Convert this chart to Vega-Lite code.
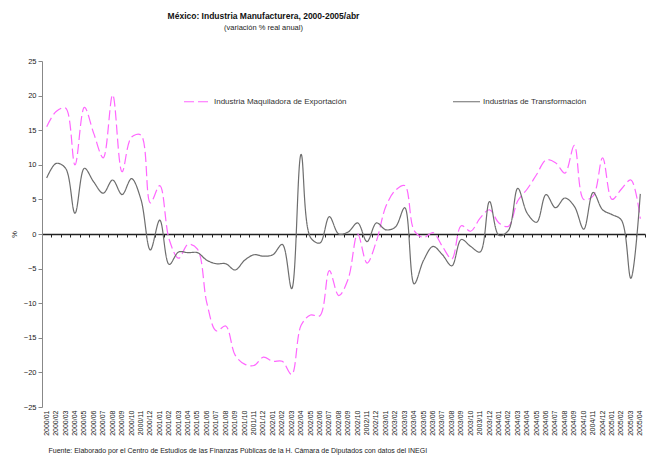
{
  "$schema": "https://vega.github.io/schema/vega-lite/v6.json",
  "width": 603,
  "height": 346,
  "autosize": {"type": "none"},
  "padding": {"left": 42, "top": 61, "right": 5, "bottom": 50},
  "background": "white",
  "config": {"font": "Liberation Sans", "view": {"stroke": null}},
  "title": {
    "text": "México: Industria Manufacturera, 2000-2005/abr",
    "subtitle": "(variación % real anual)",
    "fontSize": 8.5,
    "fontWeight": "bold",
    "color": "#111",
    "subtitleFontSize": 7.5,
    "subtitleColor": "#222",
    "subtitlePadding": 3,
    "anchor": "middle",
    "dx": -80,
    "offset": 26
  },
  "datasets": {
    "d": [
      {"mes": "2000/01", "serie": "Industria Maquiladora de Exportación", "valor": 15.5},
      {"mes": "2000/02", "serie": "Industria Maquiladora de Exportación", "valor": 17.7},
      {"mes": "2000/03", "serie": "Industria Maquiladora de Exportación", "valor": 18.2},
      {"mes": "2000/04", "serie": "Industria Maquiladora de Exportación", "valor": 10.0},
      {"mes": "2000/05", "serie": "Industria Maquiladora de Exportación", "valor": 18.3},
      {"mes": "2000/06", "serie": "Industria Maquiladora de Exportación", "valor": 14.5},
      {"mes": "2000/07", "serie": "Industria Maquiladora de Exportación", "valor": 11.0},
      {"mes": "2000/08", "serie": "Industria Maquiladora de Exportación", "valor": 20.1},
      {"mes": "2000/09", "serie": "Industria Maquiladora de Exportación", "valor": 9.0},
      {"mes": "2000/10", "serie": "Industria Maquiladora de Exportación", "valor": 14.0},
      {"mes": "2000/11", "serie": "Industria Maquiladora de Exportación", "valor": 14.3},
      {"mes": "2000/12", "serie": "Industria Maquiladora de Exportación", "valor": 4.5},
      {"mes": "2001/01", "serie": "Industria Maquiladora de Exportación", "valor": 7.0},
      {"mes": "2001/02", "serie": "Industria Maquiladora de Exportación", "valor": -0.8},
      {"mes": "2001/03", "serie": "Industria Maquiladora de Exportación", "valor": -3.5},
      {"mes": "2001/04", "serie": "Industria Maquiladora de Exportación", "valor": -1.5},
      {"mes": "2001/05", "serie": "Industria Maquiladora de Exportación", "valor": -2.2},
      {"mes": "2001/06", "serie": "Industria Maquiladora de Exportación", "valor": -10.0},
      {"mes": "2001/07", "serie": "Industria Maquiladora de Exportación", "valor": -14.0},
      {"mes": "2001/08", "serie": "Industria Maquiladora de Exportación", "valor": -13.3},
      {"mes": "2001/09", "serie": "Industria Maquiladora de Exportación", "valor": -17.5},
      {"mes": "2001/10", "serie": "Industria Maquiladora de Exportación", "valor": -18.8},
      {"mes": "2001/11", "serie": "Industria Maquiladora de Exportación", "valor": -19.0},
      {"mes": "2001/12", "serie": "Industria Maquiladora de Exportación", "valor": -17.8},
      {"mes": "2002/01", "serie": "Industria Maquiladora de Exportación", "valor": -18.4},
      {"mes": "2002/02", "serie": "Industria Maquiladora de Exportación", "valor": -18.4},
      {"mes": "2002/03", "serie": "Industria Maquiladora de Exportación", "valor": -20.3},
      {"mes": "2002/04", "serie": "Industria Maquiladora de Exportación", "valor": -13.2},
      {"mes": "2002/05", "serie": "Industria Maquiladora de Exportación", "valor": -11.7},
      {"mes": "2002/06", "serie": "Industria Maquiladora de Exportación", "valor": -11.8},
      {"mes": "2002/07", "serie": "Industria Maquiladora de Exportación", "valor": -5.3},
      {"mes": "2002/08", "serie": "Industria Maquiladora de Exportación", "valor": -8.9},
      {"mes": "2002/09", "serie": "Industria Maquiladora de Exportación", "valor": -6.5},
      {"mes": "2002/10", "serie": "Industria Maquiladora de Exportación", "valor": 0.0},
      {"mes": "2002/11", "serie": "Industria Maquiladora de Exportación", "valor": -4.2},
      {"mes": "2002/12", "serie": "Industria Maquiladora de Exportación", "valor": -1.0},
      {"mes": "2003/01", "serie": "Industria Maquiladora de Exportación", "valor": 4.0},
      {"mes": "2003/02", "serie": "Industria Maquiladora de Exportación", "valor": 6.3},
      {"mes": "2003/03", "serie": "Industria Maquiladora de Exportación", "valor": 7.0},
      {"mes": "2003/04", "serie": "Industria Maquiladora de Exportación", "valor": 0.5},
      {"mes": "2003/05", "serie": "Industria Maquiladora de Exportación", "valor": -0.5},
      {"mes": "2003/06", "serie": "Industria Maquiladora de Exportación", "valor": 0.2},
      {"mes": "2003/07", "serie": "Industria Maquiladora de Exportación", "valor": -1.8},
      {"mes": "2003/08", "serie": "Industria Maquiladora de Exportación", "valor": -3.6},
      {"mes": "2003/09", "serie": "Industria Maquiladora de Exportación", "valor": 1.2},
      {"mes": "2003/10", "serie": "Industria Maquiladora de Exportación", "valor": 0.4},
      {"mes": "2003/11", "serie": "Industria Maquiladora de Exportación", "valor": 2.3},
      {"mes": "2003/12", "serie": "Industria Maquiladora de Exportación", "valor": 3.5},
      {"mes": "2004/01", "serie": "Industria Maquiladora de Exportación", "valor": 1.6},
      {"mes": "2004/02", "serie": "Industria Maquiladora de Exportación", "valor": 1.1},
      {"mes": "2004/03", "serie": "Industria Maquiladora de Exportación", "valor": 4.8},
      {"mes": "2004/04", "serie": "Industria Maquiladora de Exportación", "valor": 6.5},
      {"mes": "2004/05", "serie": "Industria Maquiladora de Exportación", "valor": 8.6},
      {"mes": "2004/06", "serie": "Industria Maquiladora de Exportación", "valor": 10.7},
      {"mes": "2004/07", "serie": "Industria Maquiladora de Exportación", "valor": 10.3},
      {"mes": "2004/08", "serie": "Industria Maquiladora de Exportación", "valor": 8.8},
      {"mes": "2004/09", "serie": "Industria Maquiladora de Exportación", "valor": 12.8},
      {"mes": "2004/10", "serie": "Industria Maquiladora de Exportación", "valor": 5.0},
      {"mes": "2004/11", "serie": "Industria Maquiladora de Exportación", "valor": 5.5},
      {"mes": "2004/12", "serie": "Industria Maquiladora de Exportación", "valor": 11.0},
      {"mes": "2005/01", "serie": "Industria Maquiladora de Exportación", "valor": 5.0},
      {"mes": "2005/02", "serie": "Industria Maquiladora de Exportación", "valor": 6.5},
      {"mes": "2005/03", "serie": "Industria Maquiladora de Exportación", "valor": 7.8},
      {"mes": "2005/04", "serie": "Industria Maquiladora de Exportación", "valor": 2.2},
      {"mes": "2000/01", "serie": "Industrias de Transformación", "valor": 8.1},
      {"mes": "2000/02", "serie": "Industrias de Transformación", "valor": 10.2},
      {"mes": "2000/03", "serie": "Industrias de Transformación", "valor": 9.5},
      {"mes": "2000/04", "serie": "Industrias de Transformación", "valor": 3.0},
      {"mes": "2000/05", "serie": "Industrias de Transformación", "valor": 9.5},
      {"mes": "2000/06", "serie": "Industrias de Transformación", "valor": 7.5},
      {"mes": "2000/07", "serie": "Industrias de Transformación", "valor": 5.9},
      {"mes": "2000/08", "serie": "Industrias de Transformación", "valor": 7.8},
      {"mes": "2000/09", "serie": "Industrias de Transformación", "valor": 5.7},
      {"mes": "2000/10", "serie": "Industrias de Transformación", "valor": 8.0},
      {"mes": "2000/11", "serie": "Industrias de Transformación", "valor": 5.0},
      {"mes": "2000/12", "serie": "Industrias de Transformación", "valor": -2.3},
      {"mes": "2001/01", "serie": "Industrias de Transformación", "valor": 2.0},
      {"mes": "2001/02", "serie": "Industrias de Transformación", "valor": -4.4},
      {"mes": "2001/03", "serie": "Industrias de Transformación", "valor": -2.6},
      {"mes": "2001/04", "serie": "Industrias de Transformación", "valor": -2.7},
      {"mes": "2001/05", "serie": "Industrias de Transformación", "valor": -2.7},
      {"mes": "2001/06", "serie": "Industrias de Transformación", "valor": -3.8},
      {"mes": "2001/07", "serie": "Industrias de Transformación", "valor": -4.3},
      {"mes": "2001/08", "serie": "Industrias de Transformación", "valor": -4.3},
      {"mes": "2001/09", "serie": "Industrias de Transformación", "valor": -5.2},
      {"mes": "2001/10", "serie": "Industrias de Transformación", "valor": -3.8},
      {"mes": "2001/11", "serie": "Industrias de Transformación", "valor": -3.0},
      {"mes": "2001/12", "serie": "Industrias de Transformación", "valor": -3.2},
      {"mes": "2002/01", "serie": "Industrias de Transformación", "valor": -3.0},
      {"mes": "2002/02", "serie": "Industrias de Transformación", "valor": -1.5},
      {"mes": "2002/03", "serie": "Industrias de Transformación", "valor": -7.9},
      {"mes": "2002/04", "serie": "Industrias de Transformación", "valor": 11.5},
      {"mes": "2002/05", "serie": "Industrias de Transformación", "valor": -0.5},
      {"mes": "2002/06", "serie": "Industrias de Transformación", "valor": -1.3},
      {"mes": "2002/07", "serie": "Industrias de Transformación", "valor": 2.5},
      {"mes": "2002/08", "serie": "Industrias de Transformación", "valor": 0.0},
      {"mes": "2002/09", "serie": "Industrias de Transformación", "valor": 0.3},
      {"mes": "2002/10", "serie": "Industrias de Transformación", "valor": 1.6},
      {"mes": "2002/11", "serie": "Industrias de Transformación", "valor": -1.1},
      {"mes": "2002/12", "serie": "Industrias de Transformación", "valor": 1.6},
      {"mes": "2003/01", "serie": "Industrias de Transformación", "valor": 0.6},
      {"mes": "2003/02", "serie": "Industrias de Transformación", "valor": 1.0},
      {"mes": "2003/03", "serie": "Industrias de Transformación", "valor": 3.8},
      {"mes": "2003/04", "serie": "Industrias de Transformación", "valor": -7.2},
      {"mes": "2003/05", "serie": "Industrias de Transformación", "valor": -3.8},
      {"mes": "2003/06", "serie": "Industrias de Transformación", "valor": -1.8},
      {"mes": "2003/07", "serie": "Industrias de Transformación", "valor": -3.0},
      {"mes": "2003/08", "serie": "Industrias de Transformación", "valor": -4.6},
      {"mes": "2003/09", "serie": "Industrias de Transformación", "valor": -0.8},
      {"mes": "2003/10", "serie": "Industrias de Transformación", "valor": -1.8},
      {"mes": "2003/11", "serie": "Industrias de Transformación", "valor": -2.6},
      {"mes": "2003/12", "serie": "Industrias de Transformación", "valor": 4.7},
      {"mes": "2004/01", "serie": "Industrias de Transformación", "valor": -0.2},
      {"mes": "2004/02", "serie": "Industrias de Transformación", "valor": 0.5},
      {"mes": "2004/03", "serie": "Industrias de Transformación", "valor": 6.6},
      {"mes": "2004/04", "serie": "Industrias de Transformación", "valor": 3.0},
      {"mes": "2004/05", "serie": "Industrias de Transformación", "valor": 1.7},
      {"mes": "2004/06", "serie": "Industrias de Transformación", "valor": 5.7},
      {"mes": "2004/07", "serie": "Industrias de Transformación", "valor": 3.8},
      {"mes": "2004/08", "serie": "Industrias de Transformación", "valor": 5.2},
      {"mes": "2004/09", "serie": "Industrias de Transformación", "valor": 4.0},
      {"mes": "2004/10", "serie": "Industrias de Transformación", "valor": 0.7},
      {"mes": "2004/11", "serie": "Industrias de Transformación", "valor": 6.0},
      {"mes": "2004/12", "serie": "Industrias de Transformación", "valor": 3.5},
      {"mes": "2005/01", "serie": "Industrias de Transformación", "valor": 2.8},
      {"mes": "2005/02", "serie": "Industrias de Transformación", "valor": 2.0},
      {"mes": "2005/03", "serie": "Industrias de Transformación", "valor": -6.4},
      {"mes": "2005/04", "serie": "Industrias de Transformación", "valor": 5.8}
    ]
  },
  "data": {"name": "d"},
  "layer": [
    {
      "mark": {"type": "line", "interpolate": "catmull-rom", "strokeWidth": 1.2},
      "encoding": {
        "x": {
          "field": "mes",
          "type": "ordinal",
          "scale": {"type": "band", "paddingInner": 0, "paddingOuter": 0},
          "axis": {
            "orient": "bottom",
            "title": "Fuente: Elaborado por el Centro de Estudios de las Finanzas Públicas de la H. Cámara de Diputados con datos del INEGI",
            "labelAngle": -90,
            "labelFontSize": 7,
            "labelColor": "#222",
            "labelPadding": 3,
            "labelOverlap": false,
            "ticks": false,
            "domain": false,
            "titleFontSize": 7,
            "titleFontWeight": "normal",
            "titleColor": "#222",
            "titleAnchor": "start",
            "titleAlign": "left",
            "titleX": 6,
            "titleY": 45,
            "titleBaseline": "alphabetic"
          }
        },
        "y": {
          "field": "valor",
          "type": "quantitative",
          "scale": {"domain": [-25, 25]},
          "axis": {
            "values": [-25, -20, -15, -10, -5, 0, 5, 10, 15, 20, 25],
            "labelOverlap": false,
            "labelFlush": false,
            "labelBound": false,
            "grid": false,
            "title": "%",
            "titleFontSize": 7.5,
            "titleFontWeight": "normal",
            "titleColor": "#222",
            "titlePadding": 5,
            "labelFontSize": 7.5,
            "labelColor": "#222",
            "tickSize": 4,
            "domainColor": "#888",
            "tickColor": "#888"
          }
        },
        "color": {
          "field": "serie",
          "type": "nominal",
          "scale": {
            "domain": ["Industria Maquiladora de Exportación", "Industrias de Transformación"],
            "range": ["#ff66ff", "#6e6e6e"]
          },
          "legend": {
            "orient": "none",
            "legendX": 141,
            "legendY": 26,
            "direction": "horizontal",
            "title": null,
            "symbolType": "stroke",
            "symbolSize": 729,
            "symbolStrokeWidth": 1.2,
            "labelFontSize": 8,
            "labelColor": "#333",
            "labelOffset": 2,
            "columnPadding": 103
          }
        },
        "strokeDash": {
          "field": "serie",
          "type": "nominal",
          "scale": {
            "domain": ["Industria Maquiladora de Exportación", "Industrias de Transformación"],
            "range": [[10, 4], [1, 0]]
          }
        }
      }
    },
    {
      "mark": {"type": "point", "opacity": 0},
      "encoding": {
        "x": {
          "field": "mes",
          "type": "ordinal",
          "scale": {"type": "band", "paddingInner": 0, "paddingOuter": 0},
          "axis": {
            "orient": "bottom",
            "offset": -173,
            "labels": false,
            "title": null,
            "domainColor": "#222",
            "domainWidth": 1.5,
            "tickColor": "#222",
            "tickSize": 3,
            "tickBand": "extent"
          }
        },
        "y": {
          "datum": 0,
          "type": "quantitative",
          "axis": {
            "values": [-25, -20, -15, -10, -5, 0, 5, 10, 15, 20, 25],
            "labelOverlap": false,
            "labelFlush": false,
            "labelBound": false,
            "grid": false,
            "title": "%",
            "titleFontSize": 7.5,
            "titleFontWeight": "normal",
            "titleColor": "#222",
            "titlePadding": 5,
            "labelFontSize": 7.5,
            "labelColor": "#222",
            "tickSize": 4,
            "domainColor": "#888",
            "tickColor": "#888"
          }
        }
      }
    }
  ],
  "resolve": {"axis": {"x": "independent"}}
}
